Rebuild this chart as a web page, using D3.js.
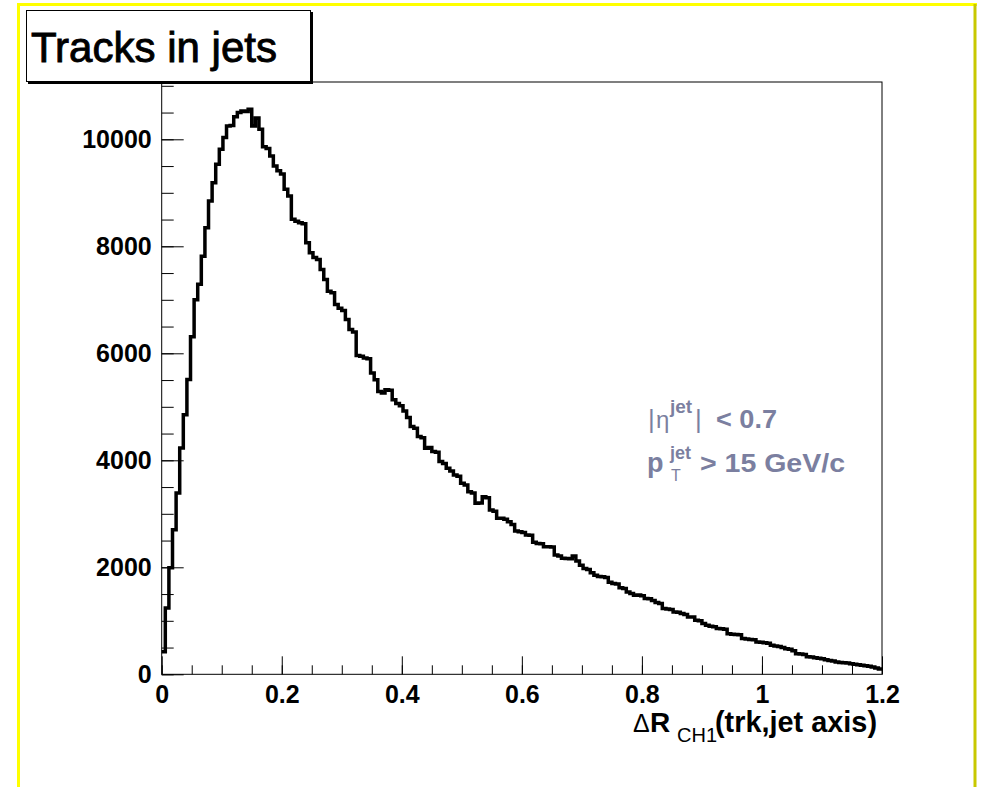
<!DOCTYPE html>
<html>
<head>
<meta charset="utf-8">
<script src="https://cdn.jsdelivr.net/npm/d3@7"></script>
<style>
  html, body { margin: 0; padding: 0; background: #fff; }
  svg { display: block; }
  text { font-family: "Liberation Sans", Arial, Helvetica, sans-serif; }
</style>
</head>
<body>
<svg id="chart" width="982" height="787"></svg>
<script>
// ---------------- data ----------------
const binLow = 0;
const binHigh = 1.2;
const counts = [
  420,1240,1990,2700,3390,4230,4850,5510,6310,7000,
  7290,7816,8348,8846,9190,9534,9814,10033,10250,10260,
  10420,10500,10530,10520,10560,10250,10400,10190,9860,9830,
  9690,9503,9410,9350,9066,8941,8504,8470,8440,8420,
  8066,7879,7790,7754,7567,7380,7160,7130,6911,6840,
  6800,6630,6443,6400,5960,5943,5912,5900,5631,5506,
  5288,5260,5319,5310,5132,5060,5020,4920,4800,4632,
  4600,4445,4420,4227,4240,4164,4150,3976,3940,3851,
  3800,3726,3700,3570,3540,3414,3390,3196,3200,3320,
  3300,3071,3050,2915,2916,2900,2852,2800,2680,2665,
  2650,2602,2600,2470,2446,2440,2384,2384,2380,2228,
  2210,2170,2165,2160,2210,2120,2040,1978,1960,1900,
  1853,1830,1822,1810,1720,1697,1690,1620,1603,1540,
  1511,1478,1480,1470,1416,1410,1380,1340,1322,1229,
  1220,1210,1166,1160,1135,1120,1073,1070,1010,1000,
  950,916,900,890,854,850,840,760,750,745,
  740,667,660,650,645,604,600,590,580,542,
  530,520,500,479,470,440,385,380,370,330,
  323,310,300,292,270,260,250,229,220,215,
  210,198,190,180,167,160,150,136,120,100
];
const yMax = 11071;
const xMajorTicks = [0, 0.2, 0.4, 0.6, 0.8, 1.0, 1.2];
const xMinorTicks = d3.range(0, 1.2001, 0.05);
const yMajorTicks = [0, 2000, 4000, 6000, 8000, 10000];
const yMinorTicks = d3.range(0, 11001, 500);
const titleText = "Tracks in jets";

// ---------------- layout ----------------
const svg = d3.select("#chart");
const x = d3.scaleLinear().domain([binLow, binHigh]).range([161.7, 882]);
const y = d3.scaleLinear().domain([0, yMax]).range([674.3, 82]);

// canvas border (ROOT style highlight)
svg.append("line").attr("x1", 18.5).attr("y1", 4.5).attr("x2", 18.5).attr("y2", 787)
  .attr("stroke", "#ffff00").attr("stroke-width", 3);
svg.append("line").attr("x1", 17).attr("y1", 4.5).attr("x2", 977).attr("y2", 4.5)
  .attr("stroke", "#ffff00").attr("stroke-width", 3);
svg.append("line").attr("x1", 975).attr("y1", 4).attr("x2", 975).attr("y2", 787)
  .attr("stroke", "#c8c800").attr("stroke-width", 3);

// frame
svg.append("rect")
  .attr("x", x(binLow)).attr("y", y(yMax))
  .attr("width", x(binHigh) - x(binLow)).attr("height", y(0) - y(yMax))
  .attr("fill", "none").attr("stroke", "#000").attr("stroke-width", 1);

// minor ticks
svg.append("g").attr("transform", `translate(${x(0)},0)`)
  .call(d3.axisLeft(y).tickValues(yMinorTicks).tickSize(-12).tickFormat(""))
  .call(g => g.select(".domain").remove());
svg.append("g").attr("transform", `translate(0,${y(0)})`)
  .call(d3.axisBottom(x).tickValues(xMinorTicks).tickSize(-9).tickFormat(""))
  .call(g => g.select(".domain").remove());

// major ticks + labels
const yAxis = svg.append("g").attr("transform", `translate(${x(0)},0)`)
  .call(d3.axisLeft(y).tickValues(yMajorTicks).tickSize(-22).tickPadding(10).tickFormat(d3.format("d")))
  .call(g => g.select(".domain").remove());
yAxis.selectAll("text").attr("font-size", 25).attr("font-weight", "bold")
  .attr("font-family", "'Liberation Sans', Arial, sans-serif").attr("fill", "#000");

const xAxis = svg.append("g").attr("transform", `translate(0,${y(0)})`)
  .call(d3.axisBottom(x).tickValues(xMajorTicks).tickSize(-18).tickPadding(11)
    .tickFormat(d => String(+d.toFixed(1))))
  .call(g => g.select(".domain").remove());
xAxis.selectAll("text").attr("font-size", 25).attr("font-weight", "bold")
  .attr("font-family", "'Liberation Sans', Arial, sans-serif").attr("fill", "#000");
svg.selectAll(".tick line").attr("stroke", "#000").attr("stroke-width", 1);

// histogram outline
const binW = (binHigh - binLow) / counts.length;
const pts = [];
counts.forEach((c, i) => {
  pts.push([binLow + i * binW, c]);
  pts.push([binLow + (i + 1) * binW, c]);
});
svg.append("path")
  .datum(pts)
  .attr("d", d3.line().x(d => x(d[0])).y(d => y(d[1])))
  .attr("fill", "none").attr("stroke", "#000").attr("stroke-width", 3.5)
  .attr("stroke-linejoin", "miter").attr("stroke-linecap", "butt");

// title box with shadow
svg.append("rect").attr("x", 28).attr("y", 12).attr("width", 285).attr("height", 72).attr("fill", "#000");
svg.append("rect").attr("x", 26.5).attr("y", 10.5).attr("width", 284).attr("height", 71)
  .attr("fill", "#fff").attr("stroke", "#000").attr("stroke-width", 1);
svg.append("text").attr("x", 31).attr("y", 61.5).attr("font-size", 42)
  .attr("fill", "#000").attr("stroke", "#000").attr("stroke-width", 0.9)
  .attr("textLength", 246).attr("lengthAdjust", "spacingAndGlyphs")
  .text(titleText);

// x-axis title: ΔR_CH1(trk,jet axis)
const xt = svg.append("text").attr("y", 732).attr("fill", "#000");
xt.append("tspan").attr("x", 633).attr("font-size", 25).text("\u0394");
xt.append("tspan").attr("x", 650).attr("font-size", 28).attr("font-weight", "bold").text("R");
xt.append("tspan").attr("x", 677).attr("dy", 10).attr("font-size", 20).text("CH1");
xt.append("tspan").attr("x", 715).attr("dy", -10).attr("font-size", 29).attr("font-weight", "bold")
  .attr("textLength", 162).attr("lengthAdjust", "spacingAndGlyphs").text("(trk,jet axis)");

// annotation
const legColor = "#7b7fa0";
const l1 = svg.append("text").attr("y", 428).attr("fill", legColor);
l1.append("tspan").attr("x", 648).attr("font-size", 26).text("|");
l1.append("tspan").attr("x", 656).attr("font-size", 24).text("\u03b7");
l1.append("tspan").attr("x", 670).attr("dy", -15).attr("font-size", 19).attr("font-weight", "bold").text("jet");
l1.append("tspan").attr("x", 695).attr("dy", 15).attr("font-size", 26).text("|");
l1.append("tspan").attr("x", 716).attr("font-size", 26).attr("font-weight", "bold")
  .attr("textLength", 61).attr("lengthAdjust", "spacingAndGlyphs").text("< 0.7");

// second line: p, superscript "jet", subscript "T", rest
svg.append("text").attr("x", 647).attr("y", 472).attr("fill", legColor)
  .attr("font-size", 27).attr("font-weight", "bold").text("p");
svg.append("text").attr("x", 670).attr("y", 459).attr("fill", legColor)
  .attr("font-size", 18).attr("font-weight", "bold").text("jet");
svg.append("text").attr("x", 671).attr("y", 481).attr("fill", legColor)
  .attr("font-size", 16).text("T");
svg.append("text").attr("x", 700).attr("y", 472).attr("fill", legColor)
  .attr("font-size", 26).attr("font-weight", "bold")
  .attr("textLength", 145).attr("lengthAdjust", "spacingAndGlyphs").text("> 15 GeV/c");
</script>
</body>
</html>
